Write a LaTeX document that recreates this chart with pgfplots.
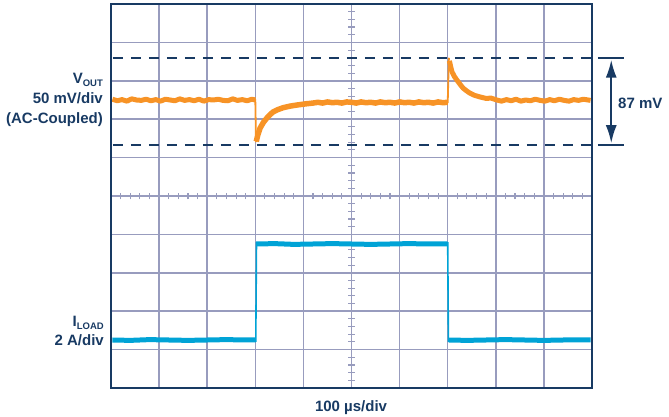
\documentclass[border=0pt]{standalone}
\usepackage{pgfplots}
\pgfplotsset{compat=1.18}
\usepackage{fontspec}
\setmainfont{Liberation Sans}
\usetikzlibrary{arrows.meta}
\definecolor{navy}{RGB}{24,58,99}
\definecolor{gridc}{RGB}{152,156,190}
\definecolor{trorange}{RGB}{247,147,38}
\definecolor{trblue}{RGB}{0,163,214}
\tikzset{lab/.style={navy, inner sep=0pt, font=\bfseries\fontsize{15bp}{18bp}\selectfont}}
\begin{document}
\begin{tikzpicture}
\begin{axis}[
  at={(0,0)}, anchor=south west,
  scale only axis, width=481bp, height=384bp,
  xmin=0, xmax=10, ymin=0, ymax=10,
  xtick={0,...,10}, ytick={0,...,10},
  xticklabels={}, yticklabels={},
  major tick length=0pt,
  grid=major,
  grid style={gridc, line width=1.5bp},
  axis line style={navy, line width=1.8bp},
  clip=false,
]
% centre minor ticks
\pgfplotsinvokeforeach{1,2,3,4,6,7,8,9,11,12,13,14,16,17,18,19,21,22,23,24,26,27,28,29,31,32,33,34,36,37,38,39,41,42,43,44,46,47,48,49}{
  \draw[gridc, line width=1.1bp] (axis cs:{#1*0.2},4.915) -- (axis cs:{#1*0.2},5.085);
  \draw[gridc, line width=1.1bp] (axis cs:4.935,{#1*0.2}) -- (axis cs:5.065,{#1*0.2});
}
% V_OUT trace
\addplot[trorange, line width=5bp, line join=round] coordinates {
 (0.03,7.52) (0.13,7.48) (0.23,7.51) (0.33,7.47) (0.43,7.53) (0.53,7.50) (0.63,7.49) (0.73,7.52)
 (0.83,7.48) (0.93,7.51) (1.03,7.47) (1.13,7.52) (1.23,7.50) (1.33,7.48) (1.43,7.53) (1.53,7.49)
 (1.63,7.51) (1.73,7.48) (1.83,7.52) (1.93,7.47) (2.03,7.51) (2.13,7.50) (2.23,7.52) (2.33,7.49)
 (2.43,7.48) (2.53,7.53) (2.63,7.49) (2.73,7.51) (2.83,7.48) (2.93,7.52) (3.0,7.50)};
\addplot[trorange, line width=1.8bp] coordinates {(3.0,7.52) (3.015,6.40)};
\addplot[trorange, line width=5.5bp, line join=round] coordinates {
 (3.02,6.42) (3.05,6.58) (3.10,6.77) (3.17,6.92) (3.24,7.03) (3.30,7.11) (3.37,7.19) (3.47,7.25)
 (3.58,7.30) (3.72,7.34) (3.87,7.37) (4.05,7.40) (4.2,7.42) (4.3,7.44) (4.4,7.42) (4.5,7.45)
 (4.6,7.43) (4.7,7.44) (4.8,7.42) (4.9,7.45) (5.0,7.44) (5.1,7.42) (5.2,7.45) (5.3,7.43)
 (5.4,7.44) (5.5,7.42) (5.6,7.45) (5.7,7.43) (5.8,7.44) (5.9,7.42) (6.0,7.45) (6.1,7.43)
 (6.2,7.44) (6.3,7.42) (6.4,7.45) (6.5,7.43) (6.6,7.44) (6.7,7.42) (6.8,7.45) (6.9,7.43) (7.0,7.44)};
\addplot[trorange, line width=1.8bp] coordinates {(7.0,7.42) (7.025,8.60)};
\addplot[trorange, line width=5bp, line join=round] coordinates {
 (7.035,8.52) (7.06,8.38) (7.09,8.23) (7.14,8.11) (7.19,8.02) (7.25,7.92) (7.32,7.81) (7.39,7.74)
 (7.46,7.68) (7.56,7.62) (7.67,7.58) (7.8,7.54) (7.9,7.55) (8.02,7.50) (8.12,7.47) (8.22,7.51)
 (8.32,7.48) (8.42,7.52) (8.52,7.47) (8.62,7.50) (8.72,7.48) (8.82,7.52) (8.92,7.49) (9.02,7.47)
 (9.12,7.51) (9.22,7.48) (9.32,7.52) (9.42,7.49) (9.52,7.47) (9.62,7.51) (9.72,7.49) (9.82,7.52)
 (9.97,7.49)};
% I_LOAD trace
\addplot[trblue, line width=5bp] coordinates {
 (0.03,1.25) (0.4,1.24) (0.8,1.26) (1.2,1.25) (1.6,1.24) (2.0,1.25) (2.4,1.26) (2.8,1.25) (3.01,1.25)};
\addplot[trblue, line width=1.6bp] coordinates {(3.01,1.20) (3.025,3.80)};
\addplot[trblue, line width=5bp] coordinates {
 (3.02,3.75) (3.4,3.76) (3.8,3.74) (4.2,3.75) (4.6,3.76) (5.0,3.75) (5.4,3.74) (5.8,3.75) (6.2,3.76) (6.6,3.75) (7.0,3.75)};
\addplot[trblue, line width=1.6bp] coordinates {(7.0,3.80) (7.015,1.20)};
\addplot[trblue, line width=5bp] coordinates {
 (7.02,1.25) (7.4,1.24) (7.8,1.25) (8.2,1.26) (8.6,1.25) (9.0,1.24) (9.4,1.25) (9.97,1.25)};
% dashed limits
\addplot[navy, line width=2bp, dash pattern=on 10.5bp off 7.5bp] coordinates {(0.04,8.586) (10,8.586)};
\addplot[navy, line width=2bp, dash pattern=on 10.5bp off 7.5bp] coordinates {(0.04,6.34) (10,6.34)};
% frame redraw
\draw[navy, line width=1.8bp] (rel axis cs:0,0) rectangle (rel axis cs:1,1);
% 87 mV marker
\draw[navy, line width=2bp] (axis cs:10.12,8.586) -- (axis cs:10.67,8.586);
\draw[navy, line width=2bp] (axis cs:10.12,6.34) -- (axis cs:10.67,6.34);
\draw[navy, line width=2bp, {Latex[length=18bp,width=11bp]}-{Latex[length=18bp,width=11bp]}] (axis cs:10.40,8.55) -- (axis cs:10.40,6.375);
\node[lab, anchor=base west] at (axis cs:10.54,7.29) {87 mV};
% labels
\node[lab, anchor=base east] at (axis cs:-0.166,7.94) {V\raisebox{-3bp}{\fontsize{9.5bp}{10bp}\selectfont OUT}};
\node[lab, anchor=base east] at (axis cs:-0.166,7.42) {50 mV/div};
\node[lab, anchor=base east] at (axis cs:-0.166,6.90) {(AC-Coupled)};
\node[lab, anchor=base east] at (axis cs:-0.145,1.59) {I\raisebox{-3bp}{\fontsize{9.5bp}{10bp}\selectfont LOAD}};
\node[lab, anchor=base east] at (axis cs:-0.145,1.11) {2 A/div};
\node[lab, anchor=base] at (axis cs:4.99,-0.60) {100 µs/div};
\coordinate (bbsw) at (axis cs:-2.3077,-0.7552);
\coordinate (bbne) at (axis cs:11.6008,10.1042);
\end{axis}
\pgfresetboundingbox
\path[use as bounding box] (bbsw) rectangle (bbne);
\end{tikzpicture}
\end{document}
